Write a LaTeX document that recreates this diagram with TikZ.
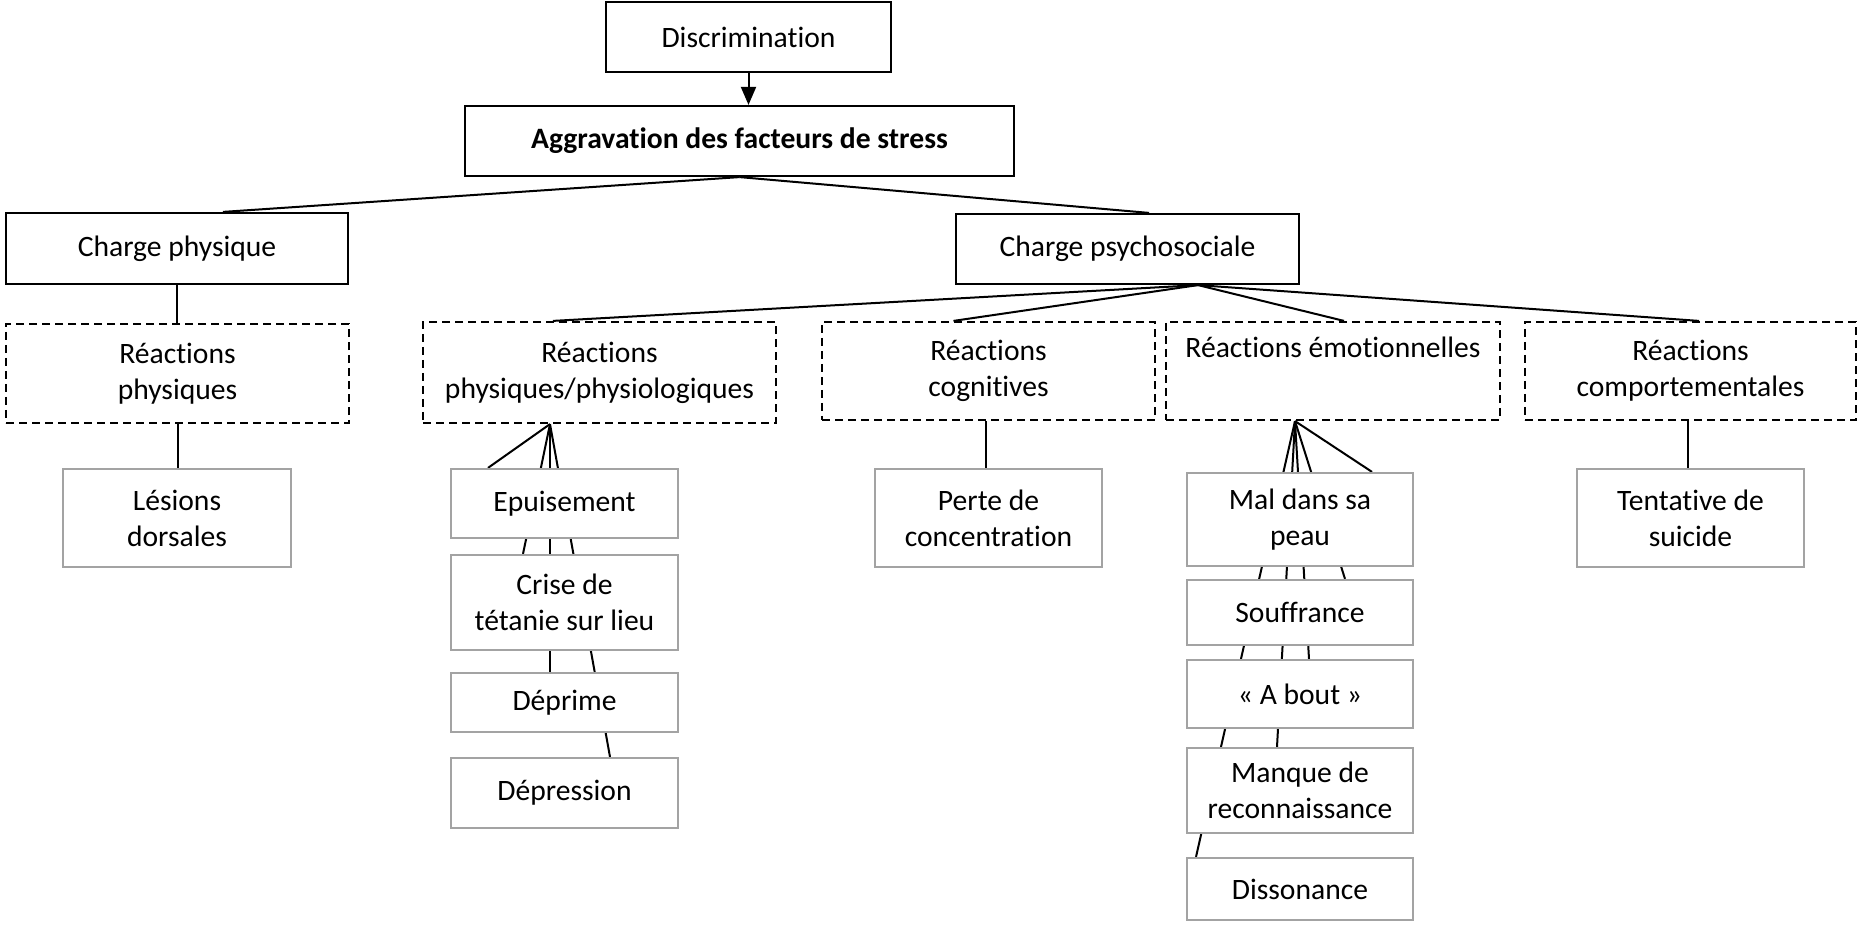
\documentclass[tikz,border=0pt]{standalone}
\usepackage{fontspec}
\setmainfont[RawFeature={-liga;-clig;-calt;-dlig}]{Carlito}
\usetikzlibrary{arrows.meta,backgrounds}
\tikzset{
  base/.style={rectangle, inner sep=0pt, align=center, fill=white,
    font=\fontsize{14.8}{18}\selectfont, line width=1.1pt},
  blackbox/.style={base, draw=black},
  dashbox/.style={base, draw=black, dash pattern=on 4pt off 2.5pt},
  greybox/.style={base, draw=black!36},
  conn/.style={draw=black, line width=1pt},
}
\begin{document}
\begin{tikzpicture}[x=0.5pt,y=-0.5pt]
\useasboundingbox (0,0) rectangle (1858,925);
% top
\node[blackbox, minimum width=142.5pt, minimum height=35pt] (disc) at (748.5,37) {Discrimination};
\node[blackbox, minimum width=274.5pt, minimum height=35pt] (aggr) at (739.5,141) {\bfseries Aggravation des facteurs de stress};
% level 1
\node[blackbox, minimum width=171pt, minimum height=35.5pt] (cphys) at (177,248.5) {Charge physique};
\node[blackbox, minimum width=171.5pt, minimum height=35pt] (cpsy) at (1127.5,249) {Charge psychosociale};
% level 2
\node[dashbox, minimum width=171.5pt, minimum height=49.5pt] (rphys) at (177.5,373.5) {Réactions\\physiques};
\node[dashbox, minimum width=176.5pt, minimum height=50.5pt] (rphysio) at (599.5,372.5) {Réactions\\physiques/physiologiques};
\node[dashbox, minimum width=166.5pt, minimum height=49pt] (rcog) at (988.5,371) {Réactions\\cognitives};
\node[dashbox, minimum width=167pt, minimum height=49pt] (remo) at (1333,371) {Réactions émotionnelles\\\strut};
\node[dashbox, minimum width=165.5pt, minimum height=49pt] (rcomp) at (1690.5,371) {Réactions\\comportementales};
% level 3
\node[greybox, minimum width=114pt, minimum height=49pt] (lesions) at (177,518) {Lésions\\dorsales};
\node[greybox, minimum width=113.5pt, minimum height=34.5pt] (epuis) at (564.5,503.5) {Epuisement};
\node[greybox, minimum width=113.5pt, minimum height=47.5pt] (crise) at (564.5,602.5) {Crise de\\tétanie sur lieu};
\node[greybox, minimum width=113.5pt, minimum height=29.5pt] (deprime) at (564.5,702.5) {Déprime};
\node[greybox, minimum width=113.5pt, minimum height=35pt] (depression) at (564.5,793) {Dépression};
\node[greybox, minimum width=113.5pt, minimum height=49pt] (perte) at (988.5,518) {Perte de\\concentration};
\node[greybox, minimum width=113pt, minimum height=46.5pt] (mal) at (1300,519.5) {Mal dans sa\\peau};
\node[greybox, minimum width=113pt, minimum height=32.5pt] (souf) at (1300,612.5) {Souffrance};
\node[greybox, minimum width=113pt, minimum height=34pt] (about) at (1300,694) {« A bout »};
\node[greybox, minimum width=113pt, minimum height=42.5pt] (manque) at (1300,790.5) {Manque de\\reconnaissance};
\node[greybox, minimum width=113pt, minimum height=31pt] (diss) at (1300,889) {Dissonance};
\node[greybox, minimum width=113.5pt, minimum height=49pt] (tent) at (1690.5,518) {Tentative de\\suicide};
% apex coordinates
\coordinate (cpsyA) at ([xshift=35.25pt]cpsy.south);
\coordinate (physioA) at ([xshift=-24.75pt]rphysio.south);
\coordinate (emoA) at ([xshift=-19pt]remo.south);
\begin{scope}[on background layer]
\draw[conn, -{Triangle[length=9pt,width=7.5pt]}] (disc.south) -- (disc.south |- aggr.north);
\draw[conn] (aggr.south) -- ([xshift=23pt]cphys.north);
\draw[conn] (aggr.south) -- ([xshift=10.75pt]cpsy.north);
\draw[conn] (cphys.south) -- (cphys.south |- rphys.north);
\draw[conn] (cpsyA) -- ([xshift=-23.25pt]rphysio.north);
\draw[conn] (cpsyA) -- ([xshift=-17.5pt]rcog.north);
\draw[conn] (cpsyA) -- ([xshift=5.5pt]remo.north);
\draw[conn] (cpsyA) -- ([xshift=4.25pt]rcomp.north);
\draw[conn] (rphys.south) -- (rphys.south |- lesions.north);
\draw[conn] (physioA) -- ([xshift=-38.25pt]epuis.north);
\draw[conn] (physioA) -- ([xshift=-20.75pt]crise.north);
\draw[conn] (physioA) -- ([xshift=-7.25pt]deprime.north);
\draw[conn] (physioA) -- ([xshift=22.75pt]depression.north);
\draw[conn] ([xshift=-1.25pt]rcog.south) -- ([xshift=-1.25pt]perte.north);
\draw[conn] (emoA) -- ([xshift=36pt]mal.north);
\draw[conn] (emoA) -- ([xshift=22.5pt]souf.north);
\draw[conn] (emoA) -- ([xshift=4.5pt]about.north);
\draw[conn] (emoA) -- ([xshift=-11.5pt]manque.north);
\draw[conn] (emoA) -- ([xshift=-52pt]diss.north);
\draw[conn] ([xshift=-1.25pt]rcomp.south) -- ([xshift=-1.25pt]tent.north);
\end{scope}
\end{tikzpicture}
\end{document}
